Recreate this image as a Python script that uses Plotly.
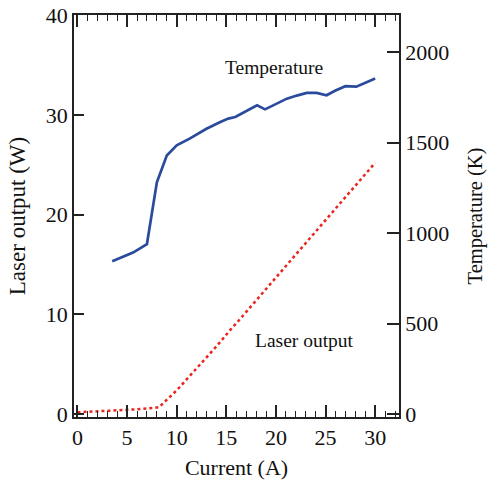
import plotly.graph_objects as go

# Temperature (right axis, K)
temp_current = [3.5, 5.6, 7.0, 8.0, 9.0, 10.0, 11.3, 13.0, 14.4, 15.2, 15.9, 17.0, 18.1, 18.9, 20.0, 21.1, 22.1, 23.1, 24.1, 25.1, 26.0, 27.0, 28.1, 29.0, 30.0]
temp_values = [845, 893, 940, 1281, 1429, 1485, 1522, 1577, 1614, 1633, 1642, 1675, 1706, 1684, 1715, 1743, 1760, 1775, 1775, 1762, 1788, 1812, 1809, 1830, 1854]

# Laser output (left axis, W)
laser_current = [0, 2, 4, 6, 8.2, 9.3, 10, 12, 13.4, 14, 15.7, 16, 18, 20, 22, 24, 26, 28, 30]
laser_values = [0.2, 0.3, 0.4, 0.5, 0.7, 1.7, 2.4, 4.6, 6.1, 6.8, 8.8, 9.1, 11.4, 13.7, 16.0, 18.3, 20.6, 22.9, 25.2]

x_ticks = [0, 5, 10, 15, 20, 25, 30]
left_ticks = [0, 10, 20, 30, 40]
right_ticks = [0, 500, 1000, 1500, 2000]

FONT = "Liberation Serif"
TICK_SIZE = 22

fig = go.Figure()
fig.add_trace(go.Scatter(x=laser_current, y=laser_values, mode="lines",
                         line=dict(color="#e8261e", width=2.5, dash="dot"),
                         yaxis="y", showlegend=False))
fig.add_trace(go.Scatter(x=temp_current, y=temp_values, mode="lines",
                         line=dict(color="#2a4b9b", width=2.7),
                         yaxis="y2", showlegend=False))

fig.update_layout(
    width=491, height=481,
    margin=dict(l=74, r=92, t=15, b=64, autoexpand=False),
    paper_bgcolor="white", plot_bgcolor="white",
    font=dict(family=FONT, size=TICK_SIZE, color="#111"),
    xaxis=dict(range=[-0.35, 32.4], tickvals=x_ticks, ticks="inside", ticklen=12,
               tickwidth=1.5, tickcolor="#222", showline=True, linecolor="#222",
               linewidth=1.8, mirror="ticks", showgrid=False, zeroline=False,
               automargin=False,
               minor=dict(dtick=1, tick0=0, ticks="inside", ticklen=6, tickwidth=1.2,
                          tickcolor="#222", showgrid=False),
               title=dict(text="Current (A)", standoff=10, font=dict(size=22)),
               tickfont=dict(size=TICK_SIZE)),
    yaxis=dict(range=[-0.27, 40], tickvals=left_ticks, ticks="inside", ticklen=10,
               tickwidth=1.5, tickcolor="#222", showline=True, linecolor="#222",
               linewidth=1.8, showgrid=False, zeroline=False, automargin=False,
               title=dict(text="Laser output (W)", standoff=14, font=dict(size=23)),
               tickfont=dict(size=TICK_SIZE)),
    yaxis2=dict(range=[-15, 2205], tickvals=right_ticks, ticks="inside", ticklen=12,
                tickwidth=1.5, tickcolor="#222", showline=True, linecolor="#222",
                linewidth=1.8, showgrid=False, zeroline=False, overlaying="y",
                side="right", automargin=False,
                title=dict(text="Temperature (K)", standoff=19, font=dict(size=20.5)),
                tickfont=dict(size=TICK_SIZE)),
    annotations=[
        dict(x=19.8, y=34.7, xref="x", yref="y", text="Temperature", showarrow=False,
             font=dict(family=FONT, size=19.5, color="#111")),
        dict(x=22.9, y=7.4, xref="x", yref="y", text="Laser output", showarrow=False,
             font=dict(family=FONT, size=19.5, color="#111")),
    ],
)

fig.write_html("out.html", config={"displayModeBar": False},
               post_script="document.body.style.margin='0';")
